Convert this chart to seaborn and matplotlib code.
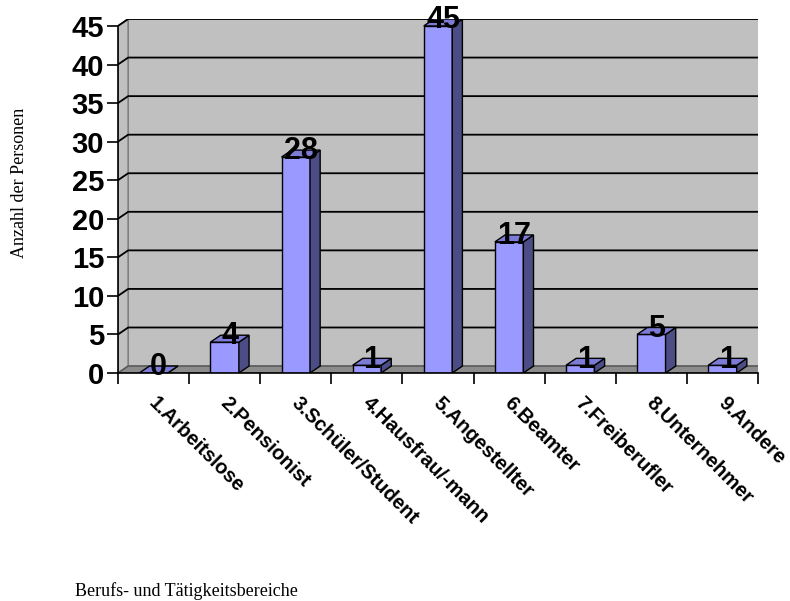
import matplotlib
matplotlib.use("Agg")
import matplotlib.pyplot as plt
from matplotlib.patches import Polygon
from matplotlib import transforms
import seaborn as sns
import pandas as pd

# Data
categories = ["1.Arbeitslose", "2.Pensionist", "3.Schüler/Student", "4.Hausfrau/-mann",
              "5.Angestellter", "6.Beamter", "7.Freiberufler", "8.Unternehmer", "9.Andere"]
counts = [0, 4, 28, 1, 45, 17, 1, 5, 1]
y_ticks = [0, 5, 10, 15, 20, 25, 30, 35, 40, 45]

x_title = "Berufs- und Tätigkeitsbereiche"
y_title = "Anzahl der Personen"

df = pd.DataFrame({"Bereich": categories, "Anzahl": counts})

# Styling
sns.set_theme(style="white")
plt.rcParams["font.family"] = ["Liberation Sans", "DejaVu Sans"]
plt.rcParams["text.color"] = "black"
plt.rcParams["xtick.color"] = "black"
plt.rcParams["ytick.color"] = "black"
plt.rcParams["xtick.labelcolor"] = "black"
plt.rcParams["ytick.labelcolor"] = "black"

FRONT = "#9999FF"
SIDE = "#4D4D85"
TOP = "#7C7CD6"
WALL = "#C0C0C0"
FLOOR = "#8C8C8C"
BORDER = "#808080"

n = len(categories)
ymax = 45
dx, dy = 0.143, 0.9          # depth offset of the 3D box (data units)
bar_w = 0.4

fig = plt.figure(figsize=(7.9, 6.01), dpi=100)
ax = fig.add_axes([118 / 790, (601 - 373) / 601, 640 / 790, 354 / 601])
ax.set_xlim(-0.5, n - 0.5 + dx)
ax.set_ylim(0, ymax + dy)
ax.patch.set_alpha(0)

x0, x1 = -0.5, n - 0.5

# Back wall, left wall and floor
ax.add_patch(Polygon([(x0 + dx, dy), (x1 + dx, dy), (x1 + dx, ymax + dy), (x0 + dx, ymax + dy)],
                     closed=True, facecolor=WALL, edgecolor=BORDER, lw=1.2, zorder=0))
ax.add_patch(Polygon([(x0, 0), (x0 + dx, dy), (x0 + dx, ymax + dy), (x0, ymax)],
                     closed=True, facecolor=WALL, edgecolor=BORDER, lw=1.2, zorder=0))
ax.add_patch(Polygon([(x0, 0), (x1, 0), (x1 + dx, dy), (x0 + dx, dy)],
                     closed=True, facecolor=FLOOR, edgecolor="#555555", lw=1.0, zorder=0.5))

# Gridlines on the walls
for v in y_ticks[1:]:
    ax.plot([x0, x0 + dx, x1 + dx], [v, v + dy, v + dy], color="black", lw=1.3, zorder=0.6,
            solid_capstyle="butt")

# Front faces of the bars
sns.barplot(data=df, x="Bereich", y="Anzahl", ax=ax, color=FRONT, saturation=1,
            width=bar_w, edgecolor="black", linewidth=1.0, zorder=3)

# Side and top faces, value labels
for i, v in enumerate(counts):
    l, r = i - bar_w / 2, i + bar_w / 2
    ax.add_patch(Polygon([(r, 0), (r + dx, dy), (r + dx, v + dy), (r, v)], closed=True,
                         facecolor=SIDE, edgecolor="black", lw=1.0, zorder=3))
    ax.add_patch(Polygon([(l, v), (r, v), (r + dx, v + dy), (l + dx, v + dy)], closed=True,
                         facecolor=TOP, edgecolor="black", lw=1.0, zorder=3))
    ax.text(i + dx / 2, v + dy / 2 + 0.3, str(v), ha="center", va="center",
            fontsize=22, fontweight="bold", color="black", zorder=5)

# Axes
for s in ["top", "right"]:
    ax.spines[s].set_visible(False)
ax.spines["left"].set_bounds(0, ymax)
ax.spines["bottom"].set_bounds(x0, x1)
for s in ["left", "bottom"]:
    ax.spines[s].set_color("black")
    ax.spines[s].set_linewidth(1.2)
    ax.spines[s].set_zorder(4)

ax.set_yticks(y_ticks)
ax.set_yticklabels([str(t) for t in y_ticks], fontsize=21, fontweight="bold")
ax.tick_params(axis="y", direction="out", length=8, width=1.2, pad=2, left=True, colors="black")

ax.set_xticks(range(n))
ax.set_xticklabels(categories, rotation=-45, ha="left", va="top", rotation_mode="anchor",
                   fontsize=14.5, fontweight="bold")
ax.set_xticks([x0 + k for k in range(n + 1)], minor=True)
ax.tick_params(axis="x", which="major", length=0, pad=15)
ax.tick_params(axis="x", which="minor", direction="out", length=8, width=1.2, bottom=True,
               colors="black")
shift = transforms.ScaledTranslation(5 / 100, 0, fig.dpi_scale_trans)
for lab in ax.get_xticklabels():
    lab.set_transform(lab.get_transform() + shift)
    lab.set_color("black")

ax.set_xlabel("")
ax.set_ylabel("")

fig.text(75 / 790, 1 - 591 / 601, x_title, family=["Liberation Serif", "DejaVu Serif"],
         fontsize=13, ha="left", va="center", color="black")
fig.text(20 / 790, 1 - 183 / 601, y_title, family=["Liberation Serif", "DejaVu Serif"],
         fontsize=13, rotation=90, ha="center", va="center", color="black")

fig.savefig("out.png", dpi=100, facecolor="white")
